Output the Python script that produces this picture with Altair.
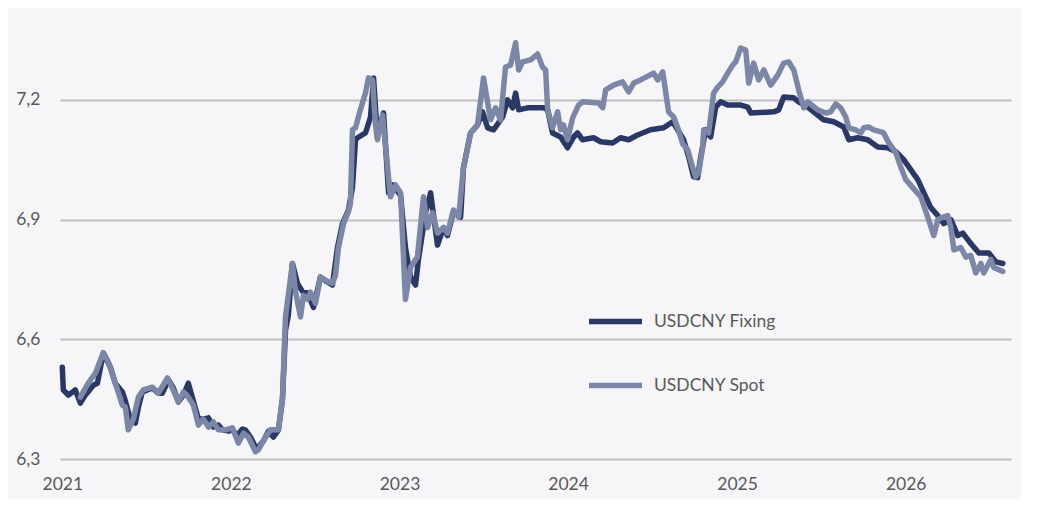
import altair as alt
import pandas as pd

# Years elapsed since 2021-01-01 and values
fix_t = [0.000, 0.006, 0.036, 0.077, 0.107, 0.136, 0.184, 0.208, 0.243, 0.285,
         0.314, 0.356, 0.374, 0.403, 0.433, 0.451, 0.474, 0.534, 0.569, 0.593,
         0.629, 0.658, 0.688, 0.718, 0.747, 0.777, 0.807, 0.836, 0.866, 0.896,
         0.925, 0.949, 0.985, 1.008, 1.038, 1.068, 1.085, 1.115, 1.145, 1.162,
         1.192, 1.222, 1.251, 1.281, 1.305, 1.323, 1.340, 1.364, 1.394, 1.423,
         1.453, 1.489, 1.530, 1.566, 1.601, 1.631, 1.661, 1.696, 1.720, 1.738,
         1.750, 1.797, 1.827, 1.845, 1.868, 1.904, 1.934, 1.963, 2.005, 2.034,
         2.064, 2.094, 2.111, 2.153, 2.183, 2.224, 2.260, 2.283, 2.319, 2.361,
         2.378, 2.420, 2.461, 2.491, 2.521, 2.556, 2.610, 2.639, 2.669, 2.687,
         2.705, 2.758, 2.853, 2.877, 2.906, 2.954, 2.995, 3.031, 3.054, 3.084,
         3.149, 3.191, 3.262, 3.309, 3.357, 3.410, 3.487, 3.565, 3.618, 3.648,
         3.683, 3.713, 3.742, 3.766, 3.784, 3.814, 3.843, 3.873, 3.903, 3.944,
         4.021, 4.063, 4.081, 4.217, 4.247, 4.276, 4.336, 4.365, 4.419, 4.454,
         4.513, 4.573, 4.632, 4.662, 4.715, 4.774, 4.834, 4.893, 4.941, 4.988,
         5.029, 5.071, 5.107, 5.148, 5.190, 5.225, 5.267, 5.308, 5.338, 5.385,
         5.433, 5.492, 5.534, 5.575]
fix_v = [6.530, 6.473, 6.460, 6.473, 6.440, 6.460, 6.485, 6.490, 6.566, 6.530,
         6.490, 6.468, 6.445, 6.400, 6.390, 6.430, 6.468, 6.478, 6.465, 6.465,
         6.498, 6.478, 6.443, 6.460, 6.490, 6.445, 6.400, 6.400, 6.403, 6.380,
         6.385, 6.373, 6.370, 6.373, 6.360, 6.375, 6.373, 6.355, 6.330, 6.330,
         6.345, 6.370, 6.355, 6.373, 6.450, 6.623, 6.660, 6.790, 6.740, 6.720,
         6.716, 6.680, 6.756, 6.745, 6.736, 6.830, 6.890, 6.924, 6.980, 7.100,
         7.105, 7.117, 7.157, 7.255, 7.107, 7.167, 6.967, 6.987, 6.960, 6.830,
         6.756, 6.736, 6.800, 6.917, 6.967, 6.836, 6.880, 6.860, 6.920, 6.906,
         7.030, 7.117, 7.137, 7.170, 7.130, 7.125, 7.157, 7.200, 7.180, 7.217,
         7.175, 7.180, 7.180, 7.175, 7.117, 7.107, 7.080, 7.107, 7.117, 7.100,
         7.105, 7.095, 7.092, 7.105, 7.100, 7.112, 7.125, 7.130, 7.145, 7.125,
         7.100, 7.057, 7.007, 7.005, 7.057, 7.125, 7.107, 7.182, 7.195, 7.187,
         7.187, 7.182, 7.167, 7.170, 7.175, 7.207, 7.205, 7.195, 7.182, 7.170,
         7.150, 7.145, 7.132, 7.100, 7.105, 7.100, 7.082, 7.080, 7.070, 7.050,
         7.025, 7.000, 6.967, 6.930, 6.910, 6.890, 6.900, 6.860, 6.866, 6.840,
         6.816, 6.816, 6.794, 6.790]

spot_t = [0.107, 0.154, 0.196, 0.243, 0.273, 0.314, 0.356, 0.374, 0.391, 0.421,
          0.451, 0.480, 0.534, 0.569, 0.623, 0.652, 0.688, 0.718, 0.747, 0.777,
          0.807, 0.836, 0.866, 0.896, 0.925, 0.967, 1.008, 1.044, 1.074, 1.103,
          1.145, 1.162, 1.204, 1.234, 1.281, 1.305, 1.323, 1.364, 1.382, 1.412,
          1.429, 1.453, 1.471, 1.501, 1.530, 1.572, 1.601, 1.619, 1.637, 1.667,
          1.696, 1.708, 1.720, 1.738, 1.767, 1.797, 1.815, 1.839, 1.856, 1.868,
          1.898, 1.945, 1.975, 2.005, 2.034, 2.064, 2.105, 2.141, 2.165, 2.194,
          2.224, 2.260, 2.283, 2.319, 2.349, 2.378, 2.420, 2.461, 2.497, 2.538,
          2.568, 2.598, 2.627, 2.657, 2.687, 2.705, 2.728, 2.776, 2.817, 2.847,
          2.865, 2.877, 2.906, 2.936, 2.954, 2.971, 2.995, 3.025, 3.060, 3.084,
          3.179, 3.203, 3.221, 3.268, 3.321, 3.357, 3.387, 3.428, 3.505, 3.529,
          3.559, 3.594, 3.624, 3.648, 3.677, 3.707, 3.737, 3.754, 3.772, 3.796,
          3.802, 3.831, 3.861, 3.885, 3.914, 3.944, 3.974, 3.992, 4.021, 4.051,
          4.069, 4.098, 4.128, 4.158, 4.199, 4.241, 4.276, 4.306, 4.336, 4.365,
          4.395, 4.419, 4.478, 4.525, 4.555, 4.585, 4.614, 4.644, 4.662, 4.703,
          4.733, 4.751, 4.780, 4.810, 4.852, 4.869, 4.899, 4.941, 4.970, 5.000,
          5.041, 5.089, 5.130, 5.166, 5.190, 5.219, 5.249, 5.267, 5.285, 5.326,
          5.356, 5.385, 5.415, 5.445, 5.462, 5.504, 5.522, 5.575]
spot_v = [6.455, 6.490, 6.515, 6.566, 6.543, 6.490, 6.435, 6.430, 6.373, 6.400,
          6.455, 6.473, 6.480, 6.465, 6.503, 6.478, 6.443, 6.468, 6.455, 6.435,
          6.385, 6.400, 6.380, 6.393, 6.373, 6.373, 6.378, 6.340, 6.365, 6.355,
          6.318, 6.323, 6.355, 6.373, 6.373, 6.450, 6.656, 6.790, 6.720, 6.656,
          6.710, 6.700, 6.718, 6.690, 6.756, 6.745, 6.740, 6.760, 6.830, 6.890,
          6.920, 6.940, 7.125, 7.130, 7.175, 7.217, 7.255, 7.250, 7.140, 7.100,
          7.162, 6.957, 6.987, 6.967, 6.700, 6.780, 6.806, 6.957, 6.880, 6.917,
          6.866, 6.880, 6.866, 6.924, 6.906, 7.030, 7.117, 7.137, 7.255, 7.150,
          7.180, 7.150, 7.282, 7.287, 7.343, 7.275, 7.295, 7.300, 7.315, 7.282,
          7.275, 7.175, 7.130, 7.170, 7.125, 7.137, 7.100, 7.155, 7.187, 7.195,
          7.192, 7.180, 7.225, 7.237, 7.245, 7.220, 7.242, 7.250, 7.267, 7.250,
          7.270, 7.170, 7.157, 7.130, 7.090, 7.075, 7.030, 7.007, 7.017, 7.082,
          7.125, 7.117, 7.217, 7.232, 7.245, 7.267, 7.287, 7.295, 7.330, 7.325,
          7.242, 7.292, 7.250, 7.275, 7.237, 7.262, 7.292, 7.295, 7.275, 7.225,
          7.180, 7.195, 7.175, 7.167, 7.170, 7.190, 7.180, 7.157, 7.130, 7.125,
          7.117, 7.130, 7.132, 7.125, 7.120, 7.117, 7.092, 7.067, 7.032, 7.000,
          6.980, 6.957, 6.906, 6.860, 6.900, 6.906, 6.910, 6.880, 6.824, 6.830,
          6.806, 6.810, 6.766, 6.790, 6.766, 6.800, 6.780, 6.770]

series_names = ["USDCNY Fixing", "USDCNY Spot"]
series_colors = ["#2b3866", "#7c86a7"]
y_ticks = [6.3, 6.6, 6.9, 7.2]

base = pd.Timestamp("2021-01-01")

def to_dates(ts):
    return [base + pd.to_timedelta(t * 365.25, unit="D") for t in ts]

df = pd.concat([
    pd.DataFrame({"date": to_dates(fix_t), "value": fix_v, "series": series_names[0]}),
    pd.DataFrame({"date": to_dates(spot_t), "value": spot_v, "series": series_names[1]}),
], ignore_index=True)

FONT = "Lato"
TXT = "#595959"

chart = alt.Chart(df).mark_line(strokeWidth=5.5, strokeJoin="round", strokeCap="round").encode(
    x=alt.X("date:T",
            scale=alt.Scale(domain=["2020-12-27", "2026-08-17"]),
            axis=alt.Axis(title=None, format="%Y", tickCount={"interval": "year", "step": 1},
                          grid=False, domain=False, ticks=False, labelPadding=16,
                          labelFontSize=17.5, labelColor=TXT, labelFont=FONT)),
    y=alt.Y("value:Q",
            scale=alt.Scale(domain=[6.3, 7.35], nice=False, zero=False),
            axis=alt.Axis(title=None, values=y_ticks, domain=False, ticks=False,
                          labelExpr="replace(format(datum.value, '.1f'), '.', ',')",
                          labelPadding=20, labelFontSize=17.5, labelColor=TXT, labelFont=FONT,
                          gridColor="#bfbfbf", gridWidth=2)),
    color=alt.Color("series:N",
                    scale=alt.Scale(domain=series_names, range=series_colors),
                    legend=alt.Legend(title=None, orient="none", legendX=526, legendY=252,
                                      symbolType="stroke", symbolSize=2809, symbolStrokeWidth=5.5,
                                      rowPadding=23, labelOffset=9, padding=0,
                                      labelFontSize=17.5, labelColor=TXT, labelFont=FONT)),
    order=alt.Order("series:N", sort="descending"),
).properties(
    width=951, height=419,
    padding={"left": 52, "top": 32, "right": 10, "bottom": 40},
    autosize=alt.AutoSizeParams(type="none"),
    background="#f6f6f8",
).configure_view(stroke=None)

chart.save("out.html", embed_options={"renderer": "svg", "actions": False})
